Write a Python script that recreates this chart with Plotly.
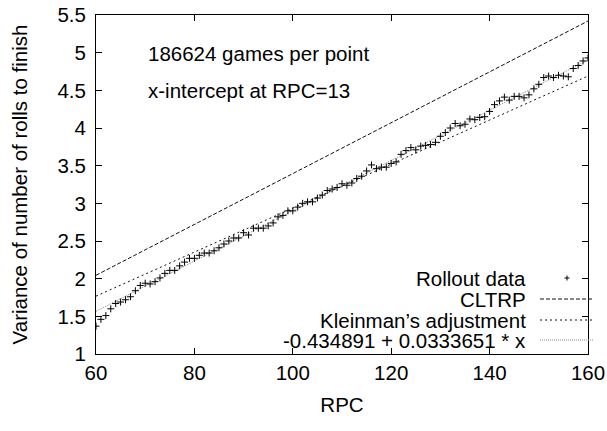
import plotly.graph_objects as go

# ---- data ----
rpc = list(range(60, 161))
rollout_var = [
    1.37, 1.46, 1.51, 1.60, 1.67, 1.69, 1.72, 1.76, 1.84, 1.91,  # 60-69
    1.94, 1.93, 1.96, 2.01, 2.07, 2.11, 2.11, 2.17, 2.22, 2.27,  # 70-79
    2.27, 2.31, 2.34, 2.34, 2.37, 2.41, 2.46, 2.50, 2.54, 2.54,  # 80-89
    2.61, 2.58, 2.67, 2.67, 2.67, 2.70, 2.74, 2.82, 2.84, 2.90,  # 90-99
    2.90, 2.95, 3.00, 3.02, 3.02, 3.07, 3.11, 3.17, 3.19, 3.21,  # 100-109
    3.26, 3.24, 3.27, 3.33, 3.36, 3.43, 3.51, 3.46, 3.48, 3.48,  # 110-119
    3.53, 3.55, 3.65, 3.70, 3.74, 3.71, 3.76, 3.77, 3.78, 3.81,  # 120-129
    3.89, 3.94, 4.00, 4.06, 4.03, 4.05, 4.12, 4.11, 4.14, 4.15,  # 130-139
    4.22, 4.31, 4.36, 4.41, 4.37, 4.42, 4.42, 4.40, 4.44, 4.52,  # 140-149
    4.58, 4.67, 4.69, 4.67, 4.70, 4.69, 4.68, 4.79, 4.83, 4.89,  # 150-159
    4.93,                                                        # 160
]
line_x = [60, 160]
cltrp_y = [2.045, 5.42]
kleinman_y = [1.768, 4.69]
fit_a = -0.434891
fit_b = 0.0333651
fit_y = [fit_a + fit_b * x for x in line_x]

x_ticks = [60, 80, 100, 120, 140, 160]
y_ticks = [1, 1.5, 2, 2.5, 3, 3.5, 4, 4.5, 5, 5.5]
y_tick_text = ["1", "1.5", "2", "2.5", "3", "3.5", "4", "4.5", "5", "5.5"]

legend_names = ["Rollout data", "CLTRP", "Kleinman\u2019s adjustment",
                "-0.434891 + 0.0333651 * x"]
notes = ["186624 games per point", "x-intercept at RPC=13"]

FONT = "Liberation Sans, Arial, Helvetica, sans-serif"
FS = 20.5

fig = go.Figure()
fig.add_trace(go.Scatter(x=line_x, y=fit_y, mode="lines", name=legend_names[3],
                         line=dict(color="#8a8a8a", width=1, dash="1px,1px")))
fig.add_trace(go.Scatter(x=line_x, y=kleinman_y, mode="lines", name=legend_names[2],
                         line=dict(color="#111", width=1, dash="2px,3px")))
fig.add_trace(go.Scatter(x=line_x, y=cltrp_y, mode="lines", name=legend_names[1],
                         line=dict(color="#111", width=1, dash="4px,2px")))
fig.add_trace(go.Scatter(x=rpc, y=rollout_var, mode="markers", name=legend_names[0],
                         marker=dict(symbol="cross-thin-open", size=5, color="black",
                                     line=dict(color="black", width=1))))

# manual gnuplot-style key (text right, sample left of the right border)
W, H = 607, 431
L, R, T, B = 96, 19, 15, 77
pw, ph = W - L - R, H - T - B
def px(xp):
    return (xp - L) / pw
def py(yp):
    return 1 - (yp - T) / ph

rows = [278, 299, 320, 340]
anns = []
for name, yp in zip(legend_names, rows):
    anns.append(dict(xref="paper", yref="paper", x=px(528), y=py(yp), text=name,
                     showarrow=False, xanchor="right", yanchor="middle",
                     font=dict(family=FONT, size=FS, color="black")))
shapes = [
    # "+" key sample
    dict(type="line", xref="paper", yref="paper", x0=px(564.5), x1=px(569.5),
         y0=py(rows[0]), y1=py(rows[0]), line=dict(color="black", width=1)),
    dict(type="line", xref="paper", yref="paper", x0=px(567), x1=px(567),
         y0=py(rows[0] - 2.5), y1=py(rows[0] + 2.5), line=dict(color="black", width=1)),
    dict(type="line", xref="paper", yref="paper", x0=px(540), x1=px(594),
         y0=py(rows[1]), y1=py(rows[1]), line=dict(color="#111", width=1, dash="4px,2px")),
    dict(type="line", xref="paper", yref="paper", x0=px(540), x1=px(594),
         y0=py(rows[2]), y1=py(rows[2]), line=dict(color="#111", width=1, dash="2px,3px")),
    dict(type="line", xref="paper", yref="paper", x0=px(540), x1=px(594),
         y0=py(rows[3]), y1=py(rows[3]), line=dict(color="#8a8a8a", width=1, dash="1px,1px")),
]
for t, yp in zip(notes, [53, 90]):
    anns.append(dict(xref="paper", yref="paper", x=px(146), y=py(yp), text=t,
                     showarrow=False, xanchor="left", yanchor="middle",
                     font=dict(family=FONT, size=FS, color="black")))

axis_common = dict(showline=True, linecolor="black", linewidth=1, mirror="allticks",
                   ticks="inside", ticklen=6, tickwidth=1, tickcolor="black",
                   showgrid=False, zeroline=False, automargin=False,
                   tickfont=dict(family=FONT, size=FS, color="black"))

fig.update_layout(
    width=W, height=H,
    margin=dict(l=L, r=R, t=T, b=B),
    paper_bgcolor="white", plot_bgcolor="white",
    showlegend=False,
    annotations=anns, shapes=shapes,
    xaxis=dict(range=[60, 160], tickvals=x_ticks, ticklabelstandoff=0,
               title=dict(text="RPC", font=dict(family=FONT, size=FS, color="black"),
                          standoff=15),
               **axis_common),
    yaxis=dict(range=[1, 5.5], tickvals=y_ticks, ticktext=y_tick_text,
               ticklabelstandoff=5,
               title=dict(text="Variance of number of rolls to finish",
                          font=dict(family=FONT, size=FS, color="black"), standoff=24),
               **axis_common),
)

fig.write_html("out.html", config={"displayModeBar": False},
               post_script="document.body.style.margin='0';")
